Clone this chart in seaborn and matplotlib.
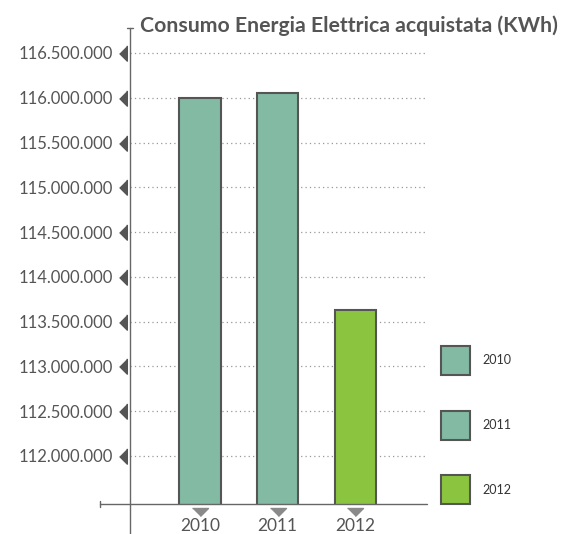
import numpy as np
import pandas as pd
import seaborn as sns
import matplotlib.pyplot as plt
from matplotlib.lines import Line2D
from matplotlib.patches import Patch

# data
years = ['2010', '2011', '2012']
consumo = [116000000, 116050000, 113630000]
colori = ['#82BAA3', '#82BAA3', '#8BC540']
y_ticks = [112000000, 112500000, 113000000, 113500000, 114000000,
           114500000, 115000000, 115500000, 116000000, 116500000]

df = pd.DataFrame({'anno': years, 'kwh': consumo})

sns.set_theme(style='white')
plt.rcParams['font.family'] = ['Lato', 'DejaVu Sans']
grigio = '#555555'

W, H = 569, 534
fig = plt.figure(figsize=(W / 100, H / 100), dpi=100)
ax = fig.add_axes([130 / W, 1 - 504 / H, (428 - 130) / W, (504 - 28) / H])

sns.barplot(data=df, x='anno', y='kwh', hue='anno', palette=colori, width=0.53,
            saturation=1, edgecolor=grigio, linewidth=1.5, legend=False,
            ax=ax, zorder=3)

ax.set_xlim(-0.903, 2.94)
ax.set_ylim(111464000, 116779000)
ax.set_yticks(y_ticks)
ax.set_yticklabels([f'{v:,}'.replace(',', '.') for v in y_ticks],
                   fontsize=12, color=grigio)
ax.set_xticks(range(len(years)))
ax.set_xticklabels(years, fontsize=12.5, color=grigio)
ax.tick_params(axis='y', length=0, pad=12)
ax.tick_params(axis='x', length=0, pad=10)
ax.set_xlabel('')
ax.set_ylabel('')
for s in ax.spines.values():
    s.set_visible(False)

# dotted grid
for v in y_ticks:
    ax.axhline(v, color='#999999', lw=0.9, ls=(0, (1, 2.5)), zorder=1)

# triangle markers next to the tick labels
tri_sx = [(0.5, 1), (0.5, -1), (-0.5, 0)]
tri_giu = [(-1, 0.5), (1, 0.5), (0, -0.5)]
ax.plot([-0.025] * len(y_ticks), y_ticks, ls='', marker=tri_sx, ms=11,
        color=grigio, transform=ax.get_yaxis_transform(), clip_on=False)
ax.plot(range(len(years)), [-0.0158] * len(years), ls='', marker=tri_giu, ms=11.5,
        color='#8a8a8a', transform=ax.get_xaxis_transform(), clip_on=False)

# axis lines drawn across the figure
fig.add_artist(Line2D([100 / W, 427 / W], [1 - 504 / H] * 2, color='#666666', lw=1))
fig.add_artist(Line2D([130 / W] * 2, [0, 1 - 28 / H], color='#666666', lw=1))
fig.add_artist(Line2D([100 / W] * 2, [1 - 501 / H, 1 - 507 / H], color='#666666', lw=1))
fig.add_artist(Line2D([127 / W, 133 / W], [1 - 28 / H] * 2, color='#666666', lw=1))

fig.text(140 / W, 1 - 32 / H, 'Consumo Energia Elettrica acquistata (KWh)',
         fontsize=15.3, fontweight='bold', color=grigio, va='baseline')

handles = [Patch(facecolor=c, edgecolor=grigio, linewidth=1.5) for c in colori]
fig.legend(handles, years, loc='upper left', bbox_to_anchor=(441 / W, 1 - 346 / H),
           frameon=False, fontsize=9, handlelength=2.3, handleheight=3.19,
           labelspacing=2.86, handletextpad=1.0, borderpad=0, borderaxespad=0,
           labelcolor='#333333')

fig.savefig('out.png', dpi=100)
